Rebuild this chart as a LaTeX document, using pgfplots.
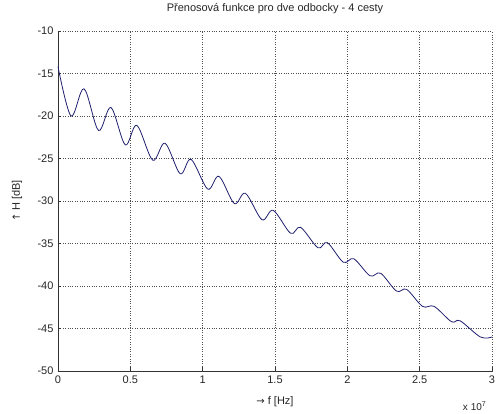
\documentclass[border=0pt]{standalone}
\usepackage{fontspec}
\setmainfont{Liberation Sans}
\newfontfamily\djv{DejaVu Sans}
\usepackage{pgfplots}
\pgfplotsset{compat=1.18}
\begin{document}
\begin{tikzpicture}
\useasboundingbox (-58pt,-43pt) rectangle (440pt,371pt);
\begin{axis}[
  at={(0pt,0pt)}, anchor=south west,
  scale only axis, width=434pt, height=340pt,
  xmin=0, xmax=3, ymin=-50, ymax=-10,
  xtick={0,0.5,1,1.5,2,2.5,3},
  xticklabels={0,0.5,1,1.5,2,2.5,3},
  ytick={-50,-45,-40,-35,-30,-25,-20,-15,-10},
  axis x line=bottom, axis y line=left,
  axis line style={-, black!80, line width=0.6pt},
  tick align=inside, major tick length=3.5pt,
  tick style={black!80, line width=0.5pt},
  grid=major,
  major grid style={black!70, dotted, line width=0.6pt},
  /pgf/number format/assume math mode=true,
  font=\fontsize{11}{13}\selectfont,
  ticklabel style={font=\fontsize{11}{13}\selectfont, text=black!85},
  xticklabel style={yshift=-1pt},
  yticklabel style={xshift=-1pt},
  title={P\v{r}enosov\'a funkce pro dve odbocky - 4 cesty},
  title style={at={(0.5,1)}, anchor=center, yshift=16pt, text=black!85},
  xlabel={{\djv\fontsize{10}{12}\selectfont →} f [Hz]},
  xlabel style={at={(0.5,0)}, anchor=center, yshift=-31pt, text=black!85},
  ylabel={{\djv\fontsize{10}{12}\selectfont ↑} H [dB]},
  ylabel style={at={(0,0.5)}, anchor=center, yshift=41pt, text=black!85},
  clip=false,
]
\addplot[color={rgb,255:red,30;green,30;blue,110}, line width=0.8pt, smooth, tension=0.55] coordinates {
(0,-14.2) (0.09,-20.0) (0.18,-16.8) (0.28,-21.7) (0.366,-19.0) (0.465,-23.4)
(0.545,-21.1) (0.655,-25.2) (0.74,-23.2) (0.845,-26.8) (0.92,-25.1)
(1.035,-28.6) (1.113,-27.1) (1.219,-30.3) (1.296,-29.1) (1.41,-32.2)
(1.488,-31.1) (1.608,-33.8) (1.677,-33.1) (1.797,-35.5) (1.862,-34.9)
(1.972,-37.2) (2.045,-36.8) (2.157,-38.8) (2.23,-38.5) (2.34,-40.6)
(2.41,-40.4) (2.52,-42.4) (2.6,-42.4) (2.72,-44.2) (2.78,-44.1)
(2.92,-46.0) (3.0,-46.0)
};
\node[anchor=center, text=black!85, font=\fontsize{10}{12}\selectfont] at (rel axis cs:0.96,0) [yshift=-35pt] {x 10\textsuperscript{7}};
\end{axis}
\end{tikzpicture}
\end{document}
